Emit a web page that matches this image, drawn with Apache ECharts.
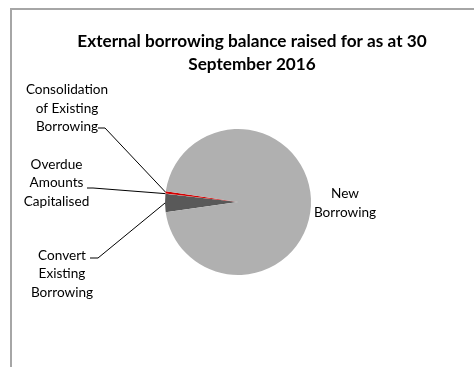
<!DOCTYPE html>
<html>
<head>
<meta charset="utf-8">
<script src="https://cdn.jsdelivr.net/npm/echarts@6/dist/echarts.min.js"></script>
<style>
html,body{margin:0;padding:0;background:#fff;}
#chart{width:474px;height:367px;}
</style>
</head>
<body>
<div id="chart"></div>
<script>
// ---- data ----
var categories = [
  'Convert\nExisting\nBorrowing',
  'Overdue\nAmounts\nCapitalised',
  'Consolidation\nof Existing\nBorrowing',
  'New\nBorrowing'
];
var values = [4.0, 0.1, 0.5, 95.4];
var titleLines = ['External borrowing balance raised for as at 30', 'September 2016'];

// ---- styling / layout ----
var colors = ['#595959', '#e8e8e8', '#d40000', '#b0b0b0'];
var FONT = 'Lato, "Liberation Sans", sans-serif';

// fit font sizes to the widths measured on the reference
function fitSize(text, target, weight) {
  var c = document.createElement('canvas').getContext('2d');
  c.font = weight + ' 100px ' + FONT;
  return Math.round(100 * target / c.measureText(text).width * 10) / 10;
}
var titleSize = fitSize(titleLines[0], 350, 'bold');
var labelSize = fitSize('Consolidation', 82, 'normal');

// label placement: text centre (x,y), leader line horizontal stub (x1..x2 at y)
var labelPlace = [
  {x: 62, y: 274, lx1: 90, lx2: 98, ly: 258},
  {x: 56.5, y: 183, lx1: 87, lx2: 93, ly: 188},
  {x: 67, y: 108.5, lx1: 98, lx2: 105, ly: 128},
  {x: 345, y: 203}
];

var chart = echarts.init(document.getElementById('chart'), null, {renderer: 'canvas'});
var option = {
  backgroundColor: '#ffffff',
  animation: false,
  title: {
    text: titleLines.join('\n'),
    left: 247,
    textAlign: 'center',
    top: 25.5,
    textStyle: {fontFamily: FONT, fontSize: titleSize, fontWeight: 'bold', color: '#000', lineHeight: 22.5}
  },
  graphic: [{
    type: 'rect',
    shape: {x: 11, y: 9, width: 700, height: 700},
    style: {fill: 'none', stroke: '#a6a6a6', lineWidth: 2},
    silent: true
  }],
  series: [{
    type: 'pie',
    center: [238, 202],
    radius: 73,
    startAngle: 188,
    clockwise: true,
    avoidLabelOverlap: false,
    itemStyle: {borderWidth: 0},
    label: {
      show: true,
      position: 'outside',
      formatter: '{b}',
      fontFamily: FONT,
      fontSize: labelSize,
      lineHeight: 18.5,
      color: '#000',
      align: 'center'
    },
    labelLine: {
      show: true,
      length: 10,
      length2: 8,
      smooth: false,
      lineStyle: {color: '#000', width: 1}
    },
    labelLayout: function (p) {
      var pl = labelPlace[p.dataIndex];
      var out = {x: pl.x, y: pl.y, align: 'center', verticalAlign: 'middle'};
      if (pl.lx1 != null && p.labelLinePoints) {
        var a = p.labelLinePoints[0];
        out.labelLinePoints = [a, [pl.lx2, pl.ly], [pl.lx1, pl.ly]];
      }
      return out;
    },
    data: categories.map(function (c, i) {
      var d = {name: c, value: values[i], itemStyle: {color: colors[i]}};
      if (i === 3) d.labelLine = {show: false};
      return d;
    })
  }]
};
chart.setOption(option);
</script>
</body>
</html>
